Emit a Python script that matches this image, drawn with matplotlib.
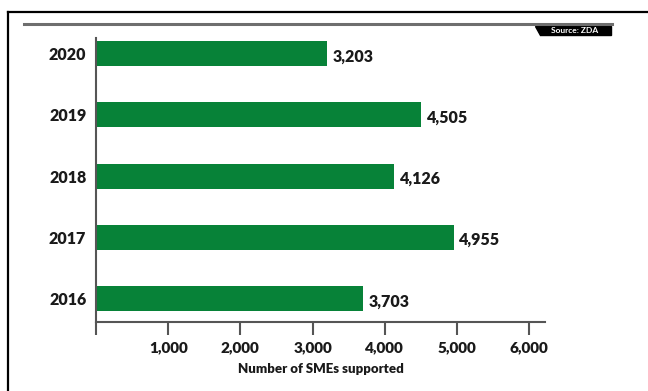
import matplotlib.pyplot as plt
from matplotlib.patches import Polygon

years = ['2016', '2017', '2018', '2019', '2020']
smes = [3703, 4955, 4126, 4505, 3203]
xticks = [0, 1000, 2000, 3000, 4000, 5000, 6000]
xtick_labels = ['', '1,000', '2,000', '3,000', '4,000', '5,000', '6,000']

plt.rcParams['font.family'] = ['Lato', 'DejaVu Sans']
green = '#078238'
txt = '#1a1a1a'
wt = 'heavy'

fig = plt.figure(figsize=(6.48, 3.91), dpi=100)
fig.set_facecolor('white')

# outer frame and header rule
fig.add_artist(plt.Line2D([8/648, 8/648], [0, 1 - 12/391], color='black', lw=1.6))
fig.add_artist(plt.Line2D([8/648, 1], [1 - 12/391, 1 - 12/391], color='black', lw=1.6))
fig.add_artist(plt.Line2D([24/648, 612/648], [1 - 24/391, 1 - 24/391], color='#6e6e6e', lw=2.2))

# source tag
sx0, sx1, sy0, sy1 = 535/648, 611/648, 1 - 35/391, 1 - 26/391
fig.add_artist(Polygon([[sx0, sy1], [sx1, sy1], [sx1, sy0], [sx0 + 0.008, sy0]],
                       closed=True, transform=fig.transFigure, color='black'))
fig.text((sx0 + sx1) / 2 + 0.003, (sy0 + sy1) / 2, 'Source: ZDA', color='white',
         fontsize=6, fontweight='bold', ha='center', va='center')

ax = fig.add_axes([96/648, 1 - 322/391, (545 - 96)/648, (322 - 38)/391])
ypos = range(len(years))
ax.barh(ypos, smes, height=0.41, color=green)

for y, v in zip(ypos, smes):
    ax.text(v + 80, y - 0.05, f'{v:,}', va='center', ha='left', fontsize=11.5,
            fontweight=wt, color=txt)

ax.set_xlim(0, 6220)
ax.set_ylim(-0.39, 4.26)
ax.set_yticks(list(ypos))
ax.set_yticklabels(years, fontsize=11.5, fontweight=wt, color=txt)
ax.tick_params(axis='y', length=0, pad=7)
ax.set_xticks(xticks)
ax.set_xticklabels(xtick_labels, fontsize=11, fontweight=wt, color=txt)
ax.tick_params(axis='x', length=9, width=1.5, color='#555555', pad=5)
ax.set_xlabel('Number of SMEs supported', fontsize=9.5, fontweight=wt,
              color=txt, labelpad=6)

for s in ['top', 'right']:
    ax.spines[s].set_visible(False)
for s in ['left', 'bottom']:
    ax.spines[s].set_color('#555555')
    ax.spines[s].set_linewidth(1.5)

fig.savefig('out.png', dpi=100, facecolor='white')
